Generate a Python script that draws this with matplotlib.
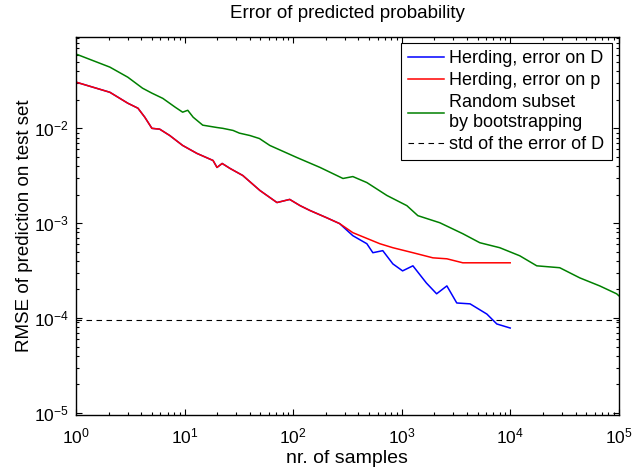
import matplotlib
matplotlib.use("Agg")
import matplotlib.pyplot as plt
from matplotlib.ticker import LogLocator, NullFormatter

plt.rcParams['font.family'] = ['Liberation Sans', 'DejaVu Sans']
plt.rcParams['mathtext.fontset'] = 'custom'
plt.rcParams['mathtext.rm'] = 'Liberation Sans'
plt.rcParams['mathtext.it'] = 'Liberation Sans:italic'
plt.rcParams['mathtext.bf'] = 'Liberation Sans:bold'

# Shared part of both herding curves (they coincide for small sample counts)
herd_n = [1, 2.05, 3, 3.72, 4.3, 5, 5.9, 7.3, 9.6, 13, 18.3, 19.9, 22.2, 26.2,
          34.4, 49.5, 71, 93, 116, 143, 204, 268]
herd_err = [0.0307, 0.024, 0.0184, 0.0163, 0.0131, 0.0100, 0.0098, 0.0084,
            0.0066, 0.00544, 0.00458, 0.00387, 0.00426, 0.00378, 0.00318,
            0.00221, 0.00165, 0.00178, 0.00153, 0.00136, 0.00114, 0.00099]

# Herding, error on D (continuation)
d_n = [355, 478, 543, 670, 830, 1020, 1270, 1690, 2100, 2610, 3220, 4270,
       6100, 7530, 10000]
d_err = [0.000738, 0.000607, 0.000488, 0.000513, 0.000372, 0.000314,
         0.000355, 0.000234, 0.00018, 0.000218, 0.000144, 0.000141,
         0.00011, 0.0000865, 0.0000784]

# Herding, error on p (continuation)
p_n = [355, 630, 830, 1270, 1940, 2610, 3660, 5250, 10000]
p_err = [0.000794, 0.000607, 0.000551, 0.000488, 0.000431, 0.000421,
         0.000382, 0.000382, 0.000382]

# Random subset by bootstrapping
boot_n = [1, 2.05, 3, 4.1, 5, 6.3, 8.2, 9.6, 10.7, 12, 14.7, 19.9, 22.5, 28,
          32, 40, 49, 61, 108, 177, 288, 355, 478, 731, 1117, 1410, 2248,
          3660, 5250, 8020, 12250, 17570, 28600, 43750, 66800, 95600, 100000]
boot_err = [0.0607, 0.0442, 0.0346, 0.0265, 0.0235, 0.0207, 0.0167, 0.0148,
            0.0155, 0.0131, 0.0108, 0.0102, 0.0100, 0.0095, 0.0089, 0.0084,
            0.0078, 0.0066, 0.00493, 0.00387, 0.00296, 0.0031, 0.00268,
            0.00196, 0.00153, 0.0012, 0.00101, 0.000774, 0.000622, 0.000551,
            0.000453, 0.000355, 0.000339, 0.000265, 0.000218, 0.00018,
            0.000172]

std_d = 9.45e-5

fig = plt.figure(figsize=(6.32, 4.71), dpi=100)
ax = fig.add_axes([0.1203, 0.119, 0.8587, 0.8024])

ax.plot(herd_n + d_n, herd_err + d_err, color=(0, 0, 1), lw=1.1,
        label='Herding, error on D')
ax.plot(herd_n + p_n, herd_err + p_err, color=(1, 0, 0), lw=1.1,
        label='Herding, error on p')
ax.plot(boot_n, boot_err, color=(0, 0.5, 0), lw=1.1,
        label='Random subset\nby bootstrapping')
ax.axhline(std_d, color='k', lw=0.8, ls=(0, (5, 4)),
           label='std of the error of D')

ax.set_xscale('log')
ax.set_yscale('log')
ax.set_xlim(1, 1e5)
ax.set_ylim(9.5e-6, 0.0918)

for axis in (ax.xaxis, ax.yaxis):
    axis.set_major_locator(LogLocator(base=10, numticks=10))
    axis.set_minor_locator(LogLocator(base=10, subs=range(2, 10), numticks=20))
    axis.set_minor_formatter(NullFormatter())

ax.tick_params(which='both', direction='in', top=True, right=True,
               labelsize=12.5, width=0.8)
ax.tick_params(which='major', length=4.3)
ax.tick_params(axis='x', which='major', pad=8)
ax.tick_params(axis='y', which='major', pad=5)
ax.tick_params(which='minor', length=2.2)
for s in ax.spines.values():
    s.set_linewidth(1.0)

ax.set_title('Error of predicted probability', fontsize=13.5, pad=14)
ax.set_xlabel('nr. of samples', fontsize=14, labelpad=3)
ax.set_ylabel('RMSE of prediction on test set', fontsize=13.5, labelpad=1)

leg = ax.legend(loc='upper right', bbox_to_anchor=(0.987, 0.984),
                borderaxespad=0, fontsize=13, fancybox=False, framealpha=1,
                edgecolor='k', handlelength=2.0, handletextpad=0.3,
                labelspacing=0.28, borderpad=0.4)
leg.get_frame().set_linewidth(0.8)
for t in leg.get_texts():
    t.set_linespacing(1.2)

fig.savefig('out.png', dpi=100)
